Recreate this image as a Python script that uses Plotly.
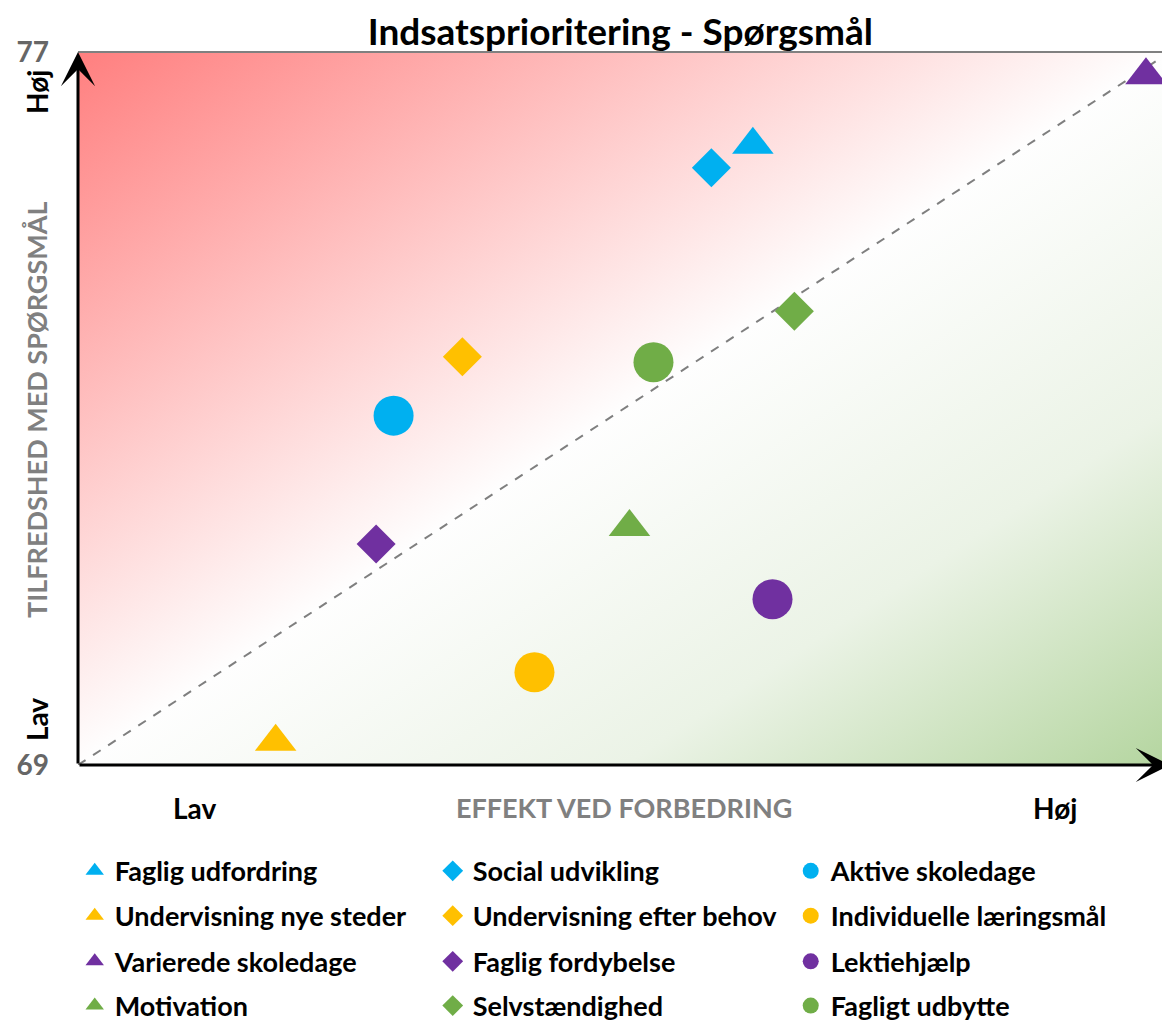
import base64
import plotly.graph_objects as go

# effekt ved forbedring (x, 0-1) / tilfredshed (y)
navne = ["Faglig udfordring", "Social udvikling", "Aktive skoledage",
         "Undervisning nye steder", "Undervisning efter behov", "Individuelle læringsmål",
         "Varierede skoledage", "Faglig fordybelse", "Lektiehjælp",
         "Motivation", "Selvstændighed", "Fagligt udbytte"]
effekt = [0.618, 0.580, 0.289,
          0.181, 0.352, 0.418,
          0.978, 0.273, 0.636,
          0.505, 0.656, 0.527]
tilfredshed = [75.96, 75.70, 72.92,
               69.26, 73.58, 70.04,
               76.74, 71.48, 70.86,
               71.67, 74.09, 73.52]
farver = ["#00B0F0", "#00B0F0", "#00B0F0",
          "#FFC000", "#FFC000", "#FFC000",
          "#7030A0", "#7030A0", "#7030A0",
          "#70AD47", "#70AD47", "#70AD47"]
symboler = ["triangle-up", "diamond", "circle"] * 4
stoerrelser = {"triangle-up": 36, "diamond": 30, "circle": 40}

y_min, y_max = 69, 77
FONT = "Lato"

# one legend per row, 3 entries each
legender = ["legend", "legend2", "legend3", "legend4"]
legend_y = [-0.149, -0.212, -0.276, -0.338]

fig = go.Figure()
for i, (navn, x, y, farve, sym) in enumerate(zip(navne, effekt, tilfredshed, farver, symboler)):
    fig.add_trace(go.Scatter(
        x=[x], y=[y], mode="markers", name=navn, legend=legender[i // 3],
        marker=dict(symbol=sym, size=stoerrelser[sym], color=farve, line=dict(width=0)),
        cliponaxis=False,
    ))

# baggrund: gradient rød -> hvid -> grøn
svg = ('<svg xmlns="http://www.w3.org/2000/svg" width="100" height="100" preserveAspectRatio="none">'
       '<defs><linearGradient id="g" x1="0" y1="0" x2="1" y2="1">'
       '<stop offset="0" stop-color="#FF7F7F"/>'
       '<stop offset="0.5" stop-color="#FEFEFE"/>'
       '<stop offset="0.75" stop-color="#EBF3E6"/>'
       '<stop offset="1" stop-color="#B4D59F"/>'
       '</linearGradient></defs><rect width="100" height="100" fill="url(#g)"/></svg>')
src = "data:image/svg+xml;base64," + base64.b64encode(svg.encode()).decode()
fig.add_layout_image(dict(source=src, xref="paper", yref="paper", x=0, y=1,
                          sizex=1, sizey=1, sizing="stretch", layer="below"))

# diagonal
fig.add_shape(type="line", x0=0, y0=y_min, x1=1, y1=y_max,
              line=dict(color="#7F7F7F", width=2, dash="dash"), layer="below")
# top-kant
fig.add_shape(type="line", xref="paper", yref="paper", x0=0, y0=1, x1=1, y1=1,
              line=dict(color="#808080", width=2))

# akse-pile
fig.add_annotation(x=0, y=y_max, ax=0, ay=y_min, axref="x", ayref="y", text="",
                   showarrow=True, arrowhead=3, arrowwidth=3, arrowsize=1.9, arrowcolor="black", standoff=0)
fig.add_annotation(x=1, y=y_min, ax=0, ay=y_min, axref="x", ayref="y", text="",
                   showarrow=True, arrowhead=3, arrowwidth=3, arrowsize=1.9, arrowcolor="black", standoff=0)

bold_black = dict(family=FONT, size=28, color="black", weight="bold")
bold_grey = dict(family=FONT, size=27, color="#808080", weight="bold")

fig.add_annotation(text="Lav", x=0.107, y=-0.0603, xref="paper", yref="paper", showarrow=False,
                   xanchor="center", yanchor="middle", font=bold_black)
fig.add_annotation(text="EFFEKT VED FORBEDRING", x=0.5, y=-0.0603, xref="paper", yref="paper",
                   xanchor="center", yanchor="middle", showarrow=False, font=bold_grey)
fig.add_annotation(text="Høj", x=0.895, y=-0.0603, xref="paper", yref="paper", showarrow=False,
                   xanchor="center", yanchor="middle", font=bold_black)

fig.add_annotation(text="Høj", x=0, y=0.944, xref="paper", yref="paper", xshift=-41, textangle=-90,
                   xanchor="center", yanchor="middle", showarrow=False, font=bold_black)
fig.add_annotation(text="Lav", x=0, y=0.063, xref="paper", yref="paper", xshift=-41, textangle=-90,
                   xanchor="center", yanchor="middle", showarrow=False, font=bold_black)
fig.add_annotation(text="TILFREDSHED MED SPØRGSMÅL", x=0, y=0.498, xref="paper", yref="paper",
                   xshift=-41, textangle=-90, xanchor="center", yanchor="middle",
                   showarrow=False, font=bold_grey)

legend_stil = dict(orientation="h", x=-0.003, xanchor="left", yanchor="middle",
                   entrywidth=313, entrywidthmode="pixels", itemwidth=30,
                   font=dict(family=FONT, size=27, color="black", weight="bold"),
                   bgcolor="rgba(0,0,0,0)")

fig.update_layout(
    width=1162, height=1017,
    margin=dict(l=70, r=0, t=44, b=260, autoexpand=False),
    paper_bgcolor="white", plot_bgcolor="rgba(0,0,0,0)",
    font=dict(family=FONT),
    title=dict(text="Indsatsprioritering - Spørgsmål", x=0.527, xanchor="center", y=0.976, yanchor="middle",
               font=dict(family=FONT, size=37, color="black", weight="bold")),
    xaxis=dict(range=[0, 1], showgrid=False, zeroline=False, showline=False, showticklabels=False, ticks=""),
    yaxis=dict(range=[y_min, y_max], showgrid=False, zeroline=False, showline=False,
               tickvals=[y_min, y_max], ticks="", ticklabelstandoff=28,
               tickfont=dict(family=FONT, size=28, color="#666666", weight="bold")),
    showlegend=True,
    legend=dict(legend_stil, y=legend_y[0]),
    legend2=dict(legend_stil, y=legend_y[1]),
    legend3=dict(legend_stil, y=legend_y[2]),
    legend4=dict(legend_stil, y=legend_y[3]),
)

fig.write_html("out.html")
